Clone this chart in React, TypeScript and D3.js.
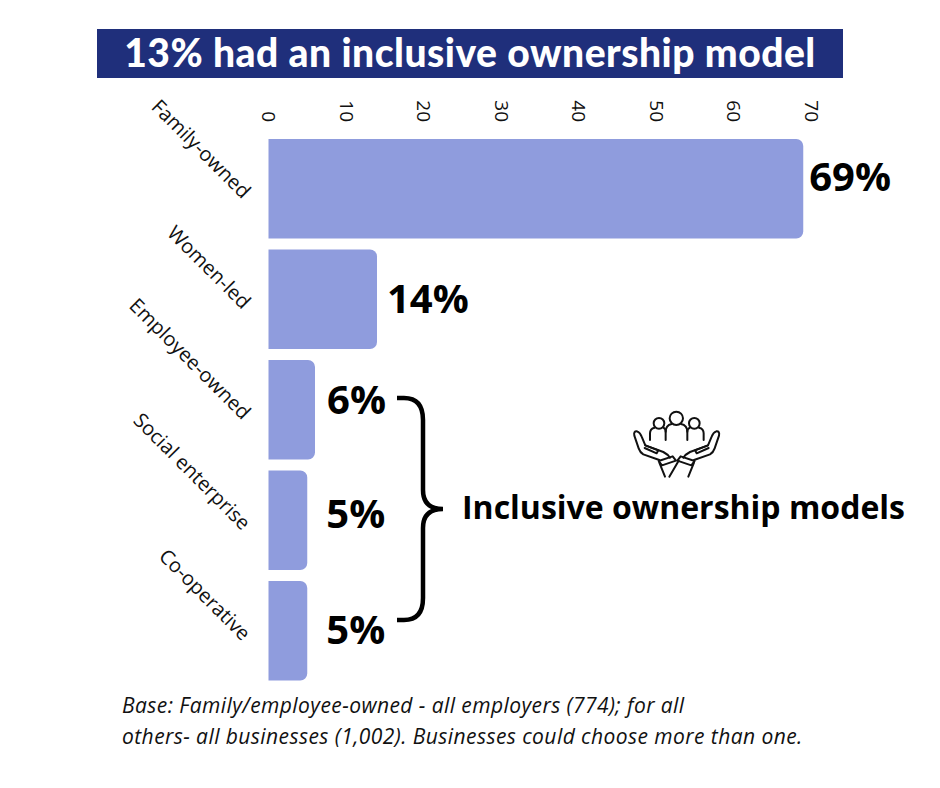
import { useEffect, useRef } from 'react';
import * as d3 from 'd3';

const categories = ['Family-owned', 'Women-led', 'Employee-owned', 'Social enterprise', 'Co-operative'];
const values = [69, 14, 6, 5, 5];
const ticks = [0, 10, 20, 30, 40, 50, 60, 70];
const titleText = '13% had an inclusive ownership model';
const groupLabel = 'Inclusive ownership models';
const baseLines = [
  'Base: Family/employee-owned - all employers (774); for all',
  'others- all businesses (1,002). Businesses could choose more than one.',
];

const width = 940;
const height = 788;
const sans = '"Open Sans", sans-serif';
const labelGaps = [6, 10, 12, 19, 19];
const labelDrops = [2, 14, 4, 8, 13];

const x = d3.scaleLinear().domain([0, 70]).range([268.5, 811]);
const y = d3.scaleBand<string>().domain(categories).range([133.5, 686]).paddingInner(0.1).paddingOuter(0.05);

// bar with rounded corners on the right end only
const barPath = (name: string, v: number) => {
  const x0 = x(0);
  const x1 = x(v);
  const y0 = y(name)!;
  const y1 = y0 + y.bandwidth();
  const r = 7;
  const p = d3.path();
  p.moveTo(x0, y0);
  p.lineTo(x1 - r, y0);
  p.arcTo(x1, y0, x1, y0 + r, r);
  p.lineTo(x1, y1 - r);
  p.arcTo(x1, y1, x1 - r, y1, r);
  p.lineTo(x0, y1);
  p.closePath();
  return p.toString();
};

const Hand = () => (
  <>
    <path d="M178 210 L130 193 Q120 187 116 175 L103 137 Q100 123 111 124 Q120 127 125 140 L136 166 L190 186 Q205 194 210 203" />
    <path d="M136 166 L175 181 L170 190 L134 174" />
    <path d="M176 213 L218 199 L228 212 L186 226 Z" />
  </>
);

const PeopleIcon = () => (
  <g transform="translate(600,390) scale(0.3333)" fill="none" stroke="#111" strokeWidth={6} strokeLinejoin="round" strokeLinecap="round">
    <circle cx={229} cy={85} r={20} />
    <circle cx={177} cy={100} r={16} />
    <circle cx={283} cy={100} r={16} />
    <path d="M197 150 V125 Q197 106 215 102 M243 102 Q262 106 262 125 V150" />
    <path d="M150 150 V130 Q150 116 164 113 M190 113 Q197 116 197 125" />
    <path d="M311 150 V130 Q311 116 297 113 M270 113 Q262 116 262 125" />
    <Hand />
    <g transform="translate(460,0) scale(-1,1)">
      <Hand />
    </g>
    <path d="M178 218 L195 260 M236 212 L208 260 M282 218 L265 260" />
  </g>
);

export default function App() {
  const tickRef = useRef<SVGGElement | null>(null);
  const catRef = useRef<SVGGElement | null>(null);

  useEffect(() => {
    const topAxis = d3.axisTop(x).tickValues(ticks).tickSize(0).tickPadding(0);
    const top = d3.select(tickRef.current).attr('transform', 'translate(0,122)').call(topAxis as any);
    top.select('.domain').remove();
    // top axis labels read downward and finish just above the bars
    top.selectAll('text')
      .attr('x', 0)
      .attr('y', 0)
      .attr('dy', '0.35em')
      .attr('text-anchor', 'end')
      .attr('transform', 'rotate(90)')
      .style('font-family', sans)
      .style('font-size', '19px')
      .style('fill', '#111');

    const leftAxis = d3.axisLeft(y).tickSize(0).tickPadding(0);
    const left = d3.select(catRef.current).attr('transform', 'translate(247,0)').call(leftAxis as any);
    left.select('.domain').remove();
    left.selectAll('text')
      .attr('x', 0)
      .attr('dy', '0.35em')
      .attr('text-anchor', 'end')
      .attr('transform', 'translate(0,6) rotate(45)')
      .style('font-family', sans)
      .style('font-size', '20px')
      .style('fill', '#111');
  }, []);

  return (
    <svg width={width} height={height} style={{ position: 'absolute', left: 0, top: 0, background: '#fff' }}>
      <rect x={97} y={29} width={746} height={49} fill="#1f2f7b" />
      <text x={470} y={67} textAnchor="middle" fill="#fff" fontFamily="Lato, sans-serif" fontWeight={900} fontSize={39} letterSpacing={0.5}>
        {titleText}
      </text>

      <g ref={tickRef} />
      <g ref={catRef} />

      {categories.map((c, i) => (
        <path key={c} d={barPath(c, values[i])} fill="#8f9cdd" />
      ))}
      {categories.map((c, i) => (
        <text
          key={c}
          x={x(values[i]) + labelGaps[i]}
          y={y(c)! + y.bandwidth() / 2 + labelDrops[i]}
          fontFamily={sans}
          fontWeight={700}
          fontSize={40}
          fill="#000"
        >
          {values[i]}%
        </text>
      ))}

      <path
        d="M397 398 H404 Q423 398 423 420 V490 Q423 509 443 509 Q423 509 423 528 V598 Q423 620 404 620 H397"
        fill="none"
        stroke="#000"
        strokeWidth={4.5}
      />
      <text x={462} y={519} fontFamily={sans} fontWeight={700} fontSize={32} fill="#000">
        {groupLabel}
      </text>
      <PeopleIcon />

      {baseLines.map((line, i) => (
        <text key={line} x={122} y={713 + i * 31} fontFamily={sans} fontStyle="italic" fontSize={21} letterSpacing={0.43} fill="#111">
          {line}
        </text>
      ))}
    </svg>
  );
}
